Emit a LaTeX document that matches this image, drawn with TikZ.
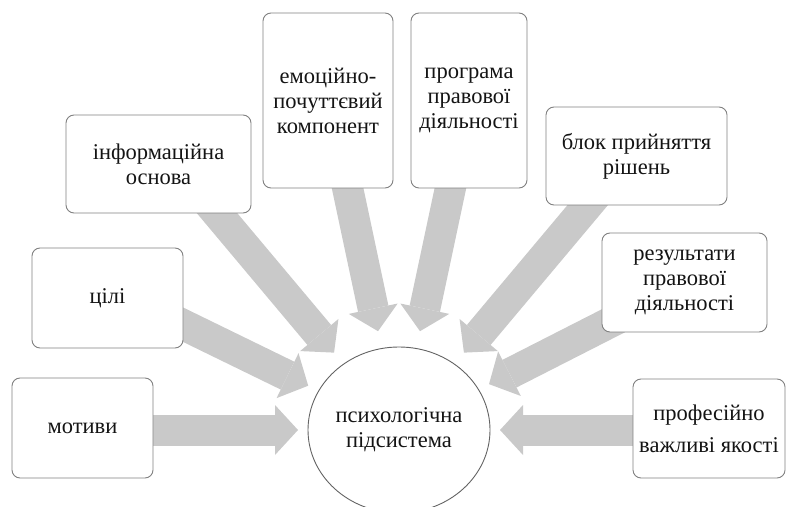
\documentclass[tikz,border=0pt]{standalone}
\usepackage{fontspec}
\setmainfont{Liberation Serif}
\usetikzlibrary{arrows.meta,calc,shapes.geometric,backgrounds}
\definecolor{arrowgray}{RGB}{201,201,201}
\definecolor{edgegray}{RGB}{128,128,128}
\definecolor{rimgray}{RGB}{100,100,100}
\definecolor{textdark}{RGB}{20,20,20}
\begin{document}
\begin{tikzpicture}[x=1pt,y=1pt,
  label text/.style={font=\fontsize{22.5}{25}\selectfont, text=textdark, align=center},
  block/.style={label text, draw=edgegray, line width=0.9pt, fill=white,
    rounded corners=8pt, inner sep=0pt},
  hub/.style={label text, ellipse, draw=rimgray, line width=0.9pt, fill=white,
    minimum width=182pt, minimum height=166pt, inner sep=0pt},
  flow/.style={draw=arrowgray, line width=31pt,
    -{Triangle[width=50pt,length=23pt,line width=0pt]}},
]
\useasboundingbox (0,0) rectangle (786,506);

% central ellipse
\node[hub] (c) at (399,76) {психологічна\\підсистема};

% surrounding blocks
\node[block, minimum width=141pt, minimum height=100pt] (mot) at (82.5,78) {мотиви};
\node[block, minimum width=151pt, minimum height=100pt] (goal) at (107.5,208) {цілі};
\node[block, minimum width=185pt, minimum height=98pt] (info) at (158.5,342) {інформаційна\\основа};
\node[block, minimum width=130pt, minimum height=175pt] (emo) at (328,405.5) {емоційно-\\почуттєвий\\компонент};
\node[block, minimum width=116pt, minimum height=175pt] (prog) at (469,405.5) {програма\\правової\\діяльності};
\node[block, minimum width=181pt, minimum height=98pt] (dec) at (636.5,350) {блок прийняття\\рішень};
\node[block, minimum width=165pt, minimum height=99pt] (res) at (684.5,223.5) {результати\\правової\\діяльності};
\node[block, minimum width=152pt, minimum height=99pt] (prof) at (709,77.5) {професійно\\[7pt]важливі якості};

% wide arrows pointing at the centre, kept behind the blocks
\foreach \ang/\nm in {180/a1, 154/a2, 130/a3, 102/a4, 78/a5, 50/a6, 27/a7, 0/a8} {
  \coordinate (\nm-tail) at ($(c.center)+(\ang:320)$);
  \coordinate (\nm-tip) at ($(c.center)+(\ang:101)$);
}
\begin{scope}[on background layer]
  \foreach \nm in {a1,a2,a3,a4,a5,a6,a7,a8}
    \draw[flow] (\nm-tail) -- (\nm-tip);
\end{scope}
\end{tikzpicture}
\end{document}
